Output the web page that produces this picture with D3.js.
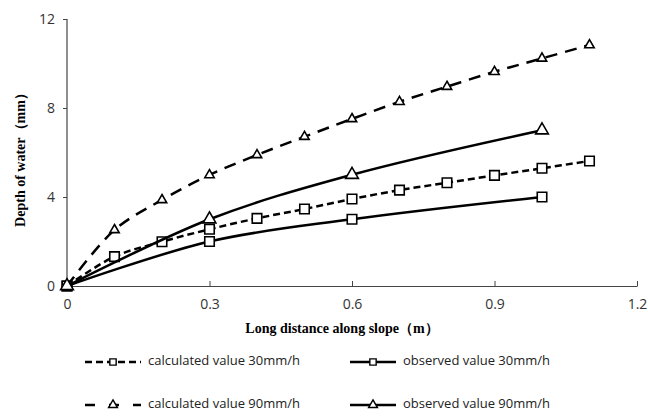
<!DOCTYPE html>
<meta charset="utf-8">
<script src="https://d3js.org/d3.v7.min.js"></script>
<style>
  body { margin: 0; background: #fff; }
</style>
<div id="my_dataviz"></div>
<script>

// data
const calcX = [0, 0.1, 0.2, 0.3, 0.4, 0.5, 0.6, 0.7, 0.8, 0.9, 1.0, 1.1];
const calc30 = [0, 1.32, 1.99, 2.55, 3.04, 3.46, 3.91, 4.31, 4.64, 4.97, 5.29, 5.62];
const calc90 = [0, 2.52, 3.87, 4.99, 5.89, 6.71, 7.51, 8.28, 8.96, 9.63, 10.23, 10.83];
const obsX = [0, 0.3, 0.6, 1.0];
const obs30 = [0, 2, 3, 4];
const obs90 = [0, 3, 5, 7];
const xTicks = [0, 0.3, 0.6, 0.9, 1.2];
const yTicks = [0, 4, 8, 12];
const legendNames = ["calculated value 30mm/h", "observed value 30mm/h",
                     "calculated value 90mm/h", "observed value 90mm/h"];

const W = 648, H = 416;
const svg = d3.select("#my_dataviz")
  .append("svg")
    .attr("width", W)
    .attr("height", H);

const x = d3.scaleLinear().domain([0, 1.2]).range([67, 637]);
const y = d3.scaleLinear().domain([0, 12]).range([286, 19]);

// axes
const xAxis = svg.append("g")
    .attr("transform", `translate(0,${y(0)})`)
    .call(d3.axisBottom(x).tickValues(xTicks).tickSize(0).tickPadding(13)
      .tickFormat(d => d === 0 ? "0" : d3.format(".1f")(d)));
xAxis.select(".domain").attr("stroke", "#444").attr("stroke-width", 1.2);
xAxis.selectAll(".tick line").attr("y1", -5).attr("y2", 0).attr("stroke", "#444");
xAxis.selectAll("text").style("font-family", "Open Sans, sans-serif").style("font-size", "14px").attr("fill", "#333");

const yAxis = svg.append("g")
    .attr("transform", `translate(${x(0)},0)`)
    .call(d3.axisLeft(y).tickValues(yTicks).tickSize(4).tickPadding(8));
yAxis.select(".domain").attr("stroke", "#444").attr("stroke-width", 1.2).attr("d", `M0,${y(12)}V${y(0)}`);
yAxis.selectAll(".tick line").attr("stroke", "#444");
yAxis.selectAll("text").style("font-family", "Open Sans, sans-serif").style("font-size", "14px").attr("fill", "#333");

// axis titles
svg.append("text")
    .attr("x", 342).attr("y", 333)
    .attr("text-anchor", "middle")
    .style("font-family", "Liberation Serif, serif").style("font-weight", "bold").style("font-size", "14px")
    .text("Long distance along slope（m）");
svg.append("text")
    .attr("transform", `translate(25,${(y(0) + y(12)) / 2 + 4}) rotate(-90)`)
    .attr("text-anchor", "middle")
    .style("font-family", "Liberation Serif, serif").style("font-weight", "bold").style("font-size", "14px")
    .text("Depth of water（mm）");

const line = d3.line()
    .curve(d3.curveCatmullRom.alpha(0.5))
    .x(d => x(d[0]))
    .y(d => y(d[1]));

const series = [
  { xs: calcX, ys: calc30, dash: "7,4", marker: "square", size: 90 },
  { xs: obsX, ys: obs30, dash: null, marker: "square", size: 90 },
  { xs: calcX, ys: calc90, dash: "12,8", marker: "triangle", size: 38 },
  { xs: obsX, ys: obs90, dash: null, marker: "triangle", size: 70 }
];

series.forEach(s => {
  const pts = s.xs.map((v, i) => [v, s.ys[i]]);
  const sym = d3.symbol().type(s.marker === "square" ? d3.symbolSquare : d3.symbolTriangle).size(s.size);
  svg.append("path")
      .datum(pts)
      .attr("fill", "none")
      .attr("stroke", "#000")
      .attr("stroke-width", 2.5)
      .attr("stroke-dasharray", s.dash)
      .attr("d", line);
  svg.selectAll(null)
    .data(pts)
    .join("path")
      .attr("transform", d => `translate(${x(d[0])},${y(d[1])})`)
      .attr("d", sym)
      .attr("fill", "#fff")
      .attr("stroke", "#000")
      .attr("stroke-width", 1.6);
});

// Handmade legend
const legendPos = [[85, 362], [350, 362], [85, 405], [350, 405]];
series.forEach((s, i) => {
  const [lx, ly] = legendPos[i];
  const g = svg.append("g").attr("transform", `translate(${lx},${ly})`);
  const len = i % 2 === 0 ? 56 : 46;
  g.append("line")
      .attr("x1", 0).attr("x2", len).attr("y1", 0).attr("y2", 0)
      .attr("stroke", "#000").attr("stroke-width", 2.5)
      .attr("stroke-dasharray", i === 0 ? "7,4" : i === 2 ? "10,14" : null);
  g.append("path")
      .attr("transform", `translate(${len / 2},0)`)
      .attr("d", d3.symbol().type(s.marker === "square" ? d3.symbolSquare : d3.symbolTriangle).size(s.marker === "square" ? 40 : 34))
      .attr("fill", "#fff").attr("stroke", "#000").attr("stroke-width", 1.4);
  g.append("text")
      .attr("x", len + 7).attr("y", 0)
      .attr("dominant-baseline", "middle")
      .style("font-family", "Open Sans, sans-serif").style("font-size", "13px").attr("fill", "#222")
      .text(legendNames[i]);
});
</script>
